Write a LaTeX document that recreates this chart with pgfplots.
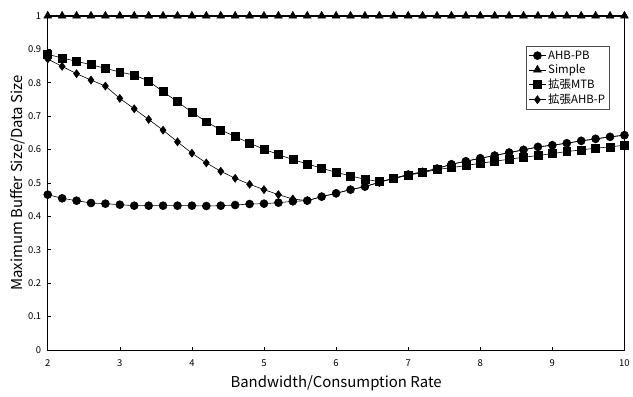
\documentclass[border=0pt]{standalone}
\usepackage{fontspec}
\setmainfont{Noto Sans CJK JP}
\usepackage{pgfplots}
\pgfplotsset{compat=1.18}
\begin{document}
\begin{tikzpicture}
\begin{axis}[
  name=ax,
  scale only axis,
  width=580pt, height=336pt,
  xmin=2, xmax=10, ymin=0, ymax=1,
  xtick={2,3,...,10},
  ytick={0,0.1,...,1},
  yticklabels={0,0.1,0.2,0.3,0.4,0.5,0.6,0.7,0.8,0.9,1},
  tick align=inside,
  xtick pos=left, ytick pos=left,
  major tick length=3pt,
  axis line style={line width=1pt},
  tick style={black, line width=0.6pt},
  /pgf/number format/assume math mode=true,
  tick label style={font=\fontsize{9.5}{10}\selectfont},
  xticklabel style={yshift=-6pt},
  yticklabel style={xshift=-3pt},
  xlabel={Bandwidth/Consumption Rate},
  ylabel={Maximum Buffer Size/Data Size},
  label style={font=\fontsize{15}{17}\selectfont},
  xlabel style={yshift=-2pt},
  ylabel style={yshift=-4pt},
  legend style={at={(0.974,0.909)}, anchor=north east, draw=black!70, line width=0.8pt,
    font=\fontsize{11.5}{12}\selectfont, row sep=0pt, inner sep=2pt},
  legend cell align=left,
  legend image post style={line width=0.6pt},
  every axis plot/.append style={black, line width=0.6pt},
]
\addplot[mark=*, mark size=4pt] coordinates {
(2.0,0.465)(2.2,0.454)(2.4,0.447)(2.6,0.440)(2.8,0.438)(3.0,0.435)(3.2,0.432)(3.4,0.432)(3.6,0.432)(3.8,0.432)(4.0,0.432)(4.2,0.431)(4.4,0.432)(4.6,0.434)(4.8,0.437)(5.0,0.438)(5.2,0.441)(5.4,0.445)(5.6,0.447)(5.8,0.459)(6.0,0.469)
(6.2,0.480)(6.4,0.489)(6.6,0.502)(6.8,0.514)(7.0,0.525)(7.2,0.533)(7.4,0.543)(7.6,0.556)(7.8,0.565)(8.0,0.574)(8.2,0.582)(8.4,0.591)(8.6,0.599)(8.8,0.608)(9.0,0.613)(9.2,0.619)(9.4,0.626)(9.6,0.632)(9.8,0.638)(10.0,0.643)};
\addlegendentry{AHB-PB}
\addplot[mark=triangle*, mark size=4.5pt] coordinates {
(2.0,1)(2.2,1)(2.4,1)(2.6,1)(2.8,1)(3.0,1)(3.2,1)(3.4,1)(3.6,1)(3.8,1)(4.0,1)(4.2,1)(4.4,1)(4.6,1)(4.8,1)(5.0,1)(5.2,1)(5.4,1)(5.6,1)(5.8,1)(6.0,1)
(6.2,1)(6.4,1)(6.6,1)(6.8,1)(7.0,1)(7.2,1)(7.4,1)(7.6,1)(7.8,1)(8.0,1)(8.2,1)(8.4,1)(8.6,1)(8.8,1)(9.0,1)(9.2,1)(9.4,1)(9.6,1)(9.8,1)(10.0,1)};
\addlegendentry{Simple}
\addplot[mark=square*, mark size=4pt] coordinates {
(2.0,0.885)(2.2,0.874)(2.4,0.864)(2.6,0.854)(2.8,0.843)(3.0,0.832)(3.2,0.823)(3.4,0.805)(3.6,0.773)(3.8,0.743)(4.0,0.712)(4.2,0.683)(4.4,0.659)(4.6,0.639)(4.8,0.619)(5.0,0.601)(5.2,0.585)(5.4,0.570)(5.6,0.557)(5.8,0.544)(6.0,0.532)
(6.2,0.521)(6.4,0.511)(6.6,0.504)(6.8,0.513)(7.0,0.523)(7.2,0.531)(7.4,0.540)(7.6,0.546)(7.8,0.552)(8.0,0.559)(8.2,0.565)(8.4,0.571)(8.6,0.577)(8.8,0.582)(9.0,0.588)(9.2,0.594)(9.4,0.599)(9.6,0.604)(9.8,0.608)(10.0,0.613)};
\addlegendentry{拡張MTB}
\addplot[mark=diamond*, mark size=4pt] coordinates {
(2.0,0.871)(2.2,0.849)(2.4,0.827)(2.6,0.808)(2.8,0.790)(3.0,0.753)(3.2,0.722)(3.4,0.690)(3.6,0.658)(3.8,0.623)(4.0,0.589)(4.2,0.560)(4.4,0.535)(4.6,0.514)(4.8,0.496)(5.0,0.480)(5.2,0.465)(5.4,0.452)(5.6,0.447)(5.8,0.459)(6.0,0.469)
(6.2,0.480)(6.4,0.489)(6.6,0.502)(6.8,0.514)(7.0,0.525)(7.2,0.533)(7.4,0.543)(7.6,0.556)(7.8,0.565)(8.0,0.574)(8.2,0.582)(8.4,0.591)(8.6,0.599)(8.8,0.608)(9.0,0.613)(9.2,0.619)(9.4,0.626)(9.6,0.632)(9.8,0.638)(10.0,0.643)};
\addlegendentry{拡張AHB-P}
\end{axis}
\path ([shift={(-48pt,-47pt)}]ax.south west) rectangle ([shift={(5pt,16pt)}]ax.north east);
\end{tikzpicture}
\end{document}
